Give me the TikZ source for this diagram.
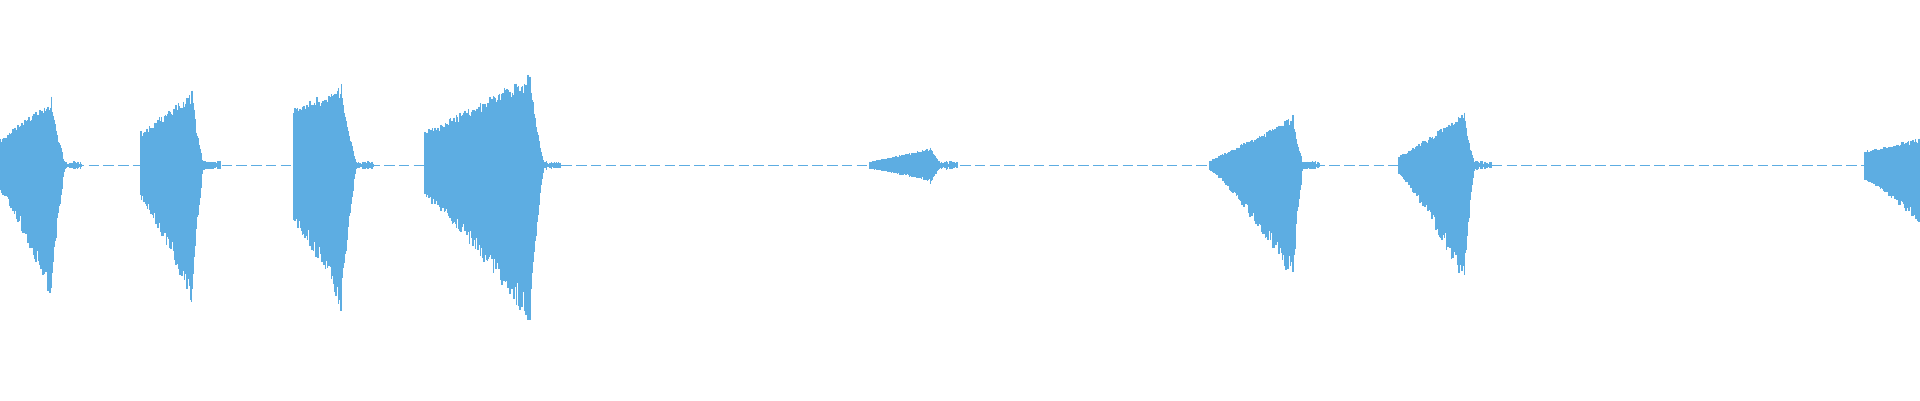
\documentclass[tikz,border=0pt]{standalone}
\definecolor{wave}{RGB}{93,173,226}
% one burst: x0, start amp, peak x, peak up, peak down, end x
\newcommand{\wburst}[6]{%
  \pgfmathsetmacro{\xsa}{#1+0.7}
  \pgfmathsetmacro{\xsb}{#3+0.7}
  \pgfmathsetmacro{\xsc}{#6+0.8}
  \pgfmathsetmacro{\xtl}{#6+14}
  \foreach \xx in {#1,\xsa,...,#3} {
    \pgfmathsetmacro{\fr}{(\xx-#1)/(#3-#1)}
    \pgfmathsetmacro{\up}{(#2+(#4-#2)*\fr^1.05)*(0.82+0.18*rnd)}
    \pgfmathsetmacro{\dn}{(#2+(#5-#2)*\fr^1.2)*(0.8+0.2*rnd)}
    \draw[wavel] (\xx,135-\up) -- (\xx,135+\dn);
  }
  \foreach \xx in {#3,\xsb,...,#6} {
    \pgfmathsetmacro{\fr}{(\xx-#3)/(#6-#3)}
    \pgfmathsetmacro{\up}{(#4*(1-\fr^0.7)+2)*(0.85+0.15*rnd)}
    \pgfmathsetmacro{\dn}{(#5*(1-\fr^0.7)+2)*(0.85+0.15*rnd)}
    \draw[wavel] (\xx,135-\up) -- (\xx,135+\dn);
  }
  \foreach \xx in {#6,\xsc,...,\xtl} {
    \pgfmathsetmacro{\up}{1+2.5*rnd}
    \draw[wavel] (\xx,135-\up) -- (\xx,135+\up);
  }
}
\begin{document}
\begin{tikzpicture}[x=0.012245cm, y=-0.012245cm,
  wavel/.style={wave, line width=0.45pt}]
\useasboundingbox (0,0) rectangle (1568,326.7);
\pgfmathsetseed{7}

% base line
\draw[wave, line width=0.35pt, dash pattern=on 3pt off 1.2pt] (0,135) -- (1568,135);

\wburst{0}{22}{42}{55}{110}{53}
\wburst{115}{28}{157}{60}{115}{166}
\wburst{240}{48}{279}{65}{120}{291}
\wburst{347}{28}{433}{75}{130}{444}
\wburst{710}{3}{760}{14}{14}{768}
\wburst{988}{4}{1056}{40}{95}{1064}
\wburst{1142}{7}{1196}{43}{98}{1204}
\wburst{1523}{12}{1567}{22}{47}{1580}
\end{tikzpicture}
\end{document}
